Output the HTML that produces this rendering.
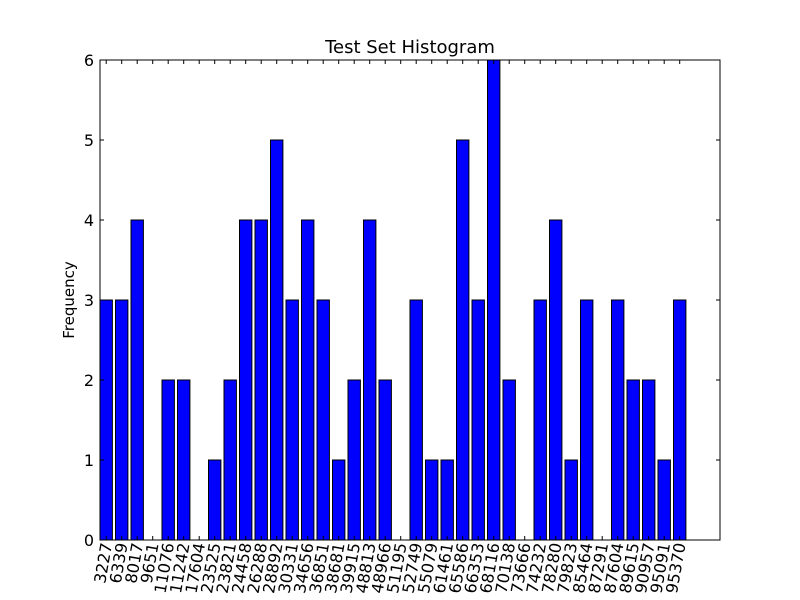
<!DOCTYPE html>
<html><head><meta charset="utf-8"><style>
body{margin:0;background:#fff;}
svg{display:block;font-family:"DejaVu Sans","Liberation Sans",sans-serif;}
</style></head><body>
<svg id="chart" width="800" height="600">
<rect width="800" height="600" fill="#fff"/>
<text x="410" y="53" font-size="18" text-anchor="middle">Test Set Histogram</text>
<text transform="translate(74,300) rotate(-90)" font-size="15" text-anchor="middle">Frequency</text>
<g id="bars"></g>
<g id="axes"></g>
<rect x="100" y="60" width="620" height="480" fill="none" stroke="#000" stroke-width="1"/>
</svg>
<script>
const categories=["3227","6339","8017","9651","11076","11242","17604","23525","23821","24458","26288","28892","30331","34656","36851","38681","39915","48813","48966","51195","52749","55079","61461","65586","66353","68116","70138","73666","74232","78280","79823","85464","87291","87604","89615","90957","95091","95370"];
const values=[3,3,4,0,2,2,0,1,2,4,4,5,3,4,3,1,2,4,2,0,3,1,1,5,3,6,2,0,3,4,1,3,0,3,2,2,1,3];
const yTicks=[0,1,2,3,4,5,6];
const NS="http://www.w3.org/2000/svg";
const X0=100,X1=720,Y0=540,Y1=60,XMAX=40,YMAX=6;
const xs=v=>X0+(v/XMAX)*(X1-X0);
const ys=v=>Y0-(v/YMAX)*(Y0-Y1);
const bars=document.getElementById('bars'),axes=document.getElementById('axes');
function mk(t,a){const e=document.createElementNS(NS,t);for(const k in a)e.setAttribute(k,a[k]);return e;}
values.forEach((v,i)=>{
  if(v>0){
    const r=mk('rect',{x:xs(i),y:ys(v),width:xs(i+0.8)-xs(i),height:ys(0)-ys(v),fill:'#0000ff',stroke:'#000','stroke-width':1});
    
    
    bars.appendChild(r);
  }
  const cx=xs(i+0.4);
  const tk=mk('line',{x1:cx,x2:cx,y1:Y0,y2:Y0-4,stroke:'#000'});
  
  
  axes.appendChild(tk);
  const tk2=mk('line',{x1:cx,x2:cx,y1:Y1,y2:Y1+4,stroke:'#000'});
  
  
  axes.appendChild(tk2);
  const t=mk('text',{transform:`translate(${cx+6},544) rotate(-80)`,'font-size':16,'text-anchor':'end'});
  t.textContent=categories[i];
  
  
  axes.appendChild(t);
});
yTicks.forEach(v=>{
  const y=ys(v);
  const l=mk('line',{x1:X0,x2:X0+4,y1:y,y2:y,stroke:'#000'});
  
  
  axes.appendChild(l);
  const l2=mk('line',{x1:X1,x2:X1-4,y1:y,y2:y,stroke:'#000'});
  
  
  axes.appendChild(l2);
  const t=mk('text',{x:X0-6,y:y+6,'font-size':16,'text-anchor':'end'});
  t.textContent=v;
  
  
  axes.appendChild(t);
});
</script>
</body></html>
